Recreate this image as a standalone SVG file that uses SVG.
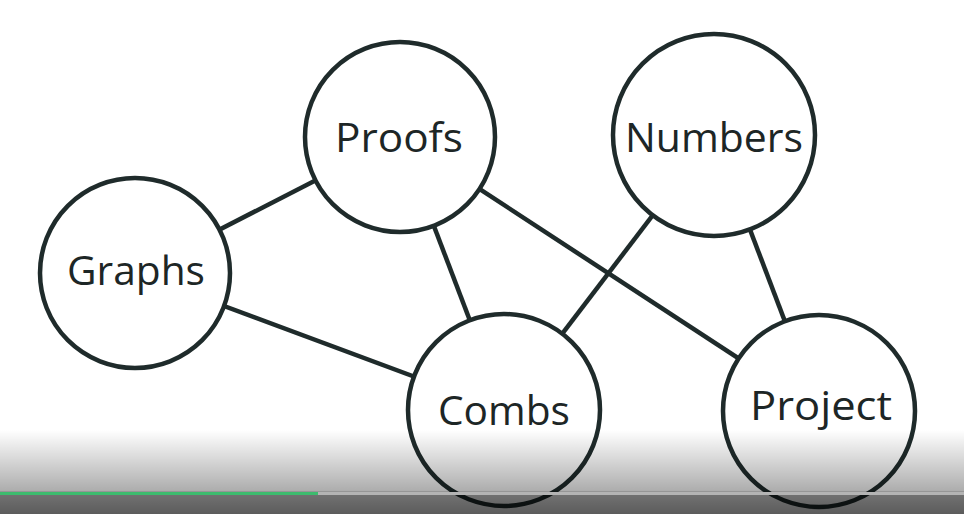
<svg xmlns="http://www.w3.org/2000/svg" width="964" height="514" viewBox="0 0 964 514">
<defs>
<style>
.edge{stroke:#1f2b2b;stroke-width:4.5;fill:none}
.node circle{fill:#ffffff;stroke:#1f2b2b;stroke-width:4.5}
.node text{font-family:"Open Sans","Noto Sans","DejaVu Sans",sans-serif;font-size:40px;fill:#1d2626;text-anchor:middle}
</style>
<linearGradient id="shade" x1="0" y1="0" x2="0" y2="1">
<stop offset="0" stop-color="#000" stop-opacity="0"/>
<stop offset="0.72" stop-color="#000" stop-opacity="0.32"/>
<stop offset="0.75" stop-color="#000" stop-opacity="0.55"/>
<stop offset="1" stop-color="#000" stop-opacity="0.64"/>
</linearGradient>
</defs>
<rect width="964" height="514" fill="#ffffff"/>
<g id="connectors">
<line class="edge" x1="135" y1="273" x2="400" y2="137"/>
<line class="edge" x1="135" y1="273" x2="504" y2="410"/>
<line class="edge" x1="400" y1="137" x2="504" y2="410"/>
<line class="edge" x1="400" y1="137" x2="819" y2="411"/>
<line class="edge" x1="714" y1="135" x2="504" y2="410"/>
<line class="edge" x1="714" y1="135" x2="819" y2="411"/>
</g>
<g id="proofs" class="node"><circle cx="400" cy="137" r="95"/><text x="399" y="152" textLength="128" lengthAdjust="spacingAndGlyphs">Proofs</text></g>
<g id="numbers" class="node"><circle cx="714" cy="135" r="101"/><text x="714" y="152" textLength="178" lengthAdjust="spacingAndGlyphs">Numbers</text></g>
<g id="graphs" class="node"><circle cx="135" cy="273" r="95"/><text x="136" y="285" textLength="138" lengthAdjust="spacingAndGlyphs">Graphs</text></g>
<g id="combs" class="node"><circle cx="504" cy="410" r="96"/><text x="504" y="425" textLength="132" lengthAdjust="spacingAndGlyphs">Combs</text></g>
<g id="project" class="node"><circle cx="819" cy="411" r="96"/><text x="821" y="420" textLength="142" lengthAdjust="spacingAndGlyphs">Project</text></g>
<rect x="0" y="430" width="964" height="84" fill="url(#shade)"/>
<rect x="0" y="492" width="964" height="3" fill="#b4b4b4"/>
<rect x="0" y="492" width="318" height="3" fill="#3dbb6e"/>
</svg>
